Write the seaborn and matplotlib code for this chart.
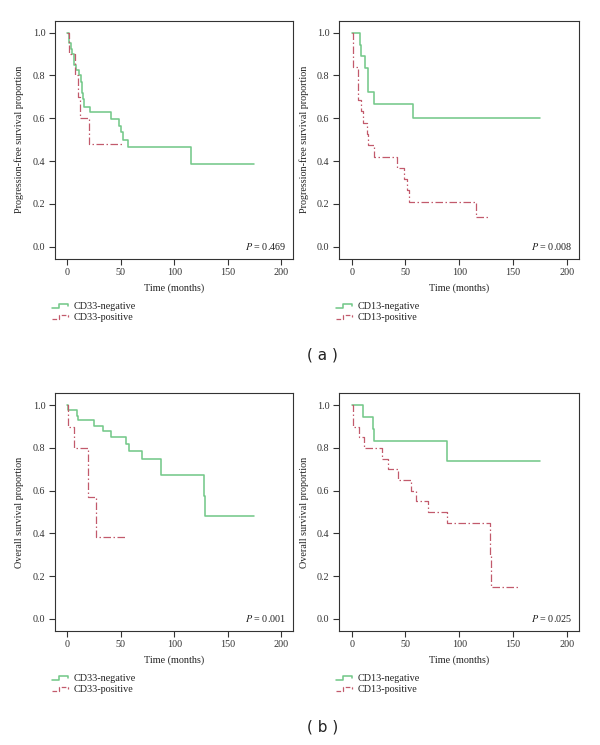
import matplotlib
matplotlib.use('Agg')
import matplotlib.pyplot as plt
from matplotlib.legend_handler import HandlerBase
from matplotlib.lines import Line2D
import numpy as np
import seaborn as sns
import pandas as pd

sns.set_style('ticks')
plt.rcParams.update({'font.family'      : ['Liberation Serif', 'DejaVu Serif'],
                     'mathtext.fontset' : 'stix',
                     'font.size'        : 7.3,
                     'xtick.labelsize'  : 7.3,
                     'ytick.labelsize'  : 7.3,
                     'axes.labelsize'   : 7.3,
                     'axes.linewidth'   : 0.8,
                     'axes.edgecolor'   : '#333333',
                     'xtick.color'      : '#333333',
                     'ytick.color'      : '#333333',
                     'text.color'       : '#222222',
                     'axes.labelcolor'  : '#222222'})

GREEN = '#74c98a'
RED = '#c25a6c'

# (a) progression-free survival, CD33
pfs33_neg_t = [0, 1.2, 3, 4.7, 6.5, 8.5, 10.5, 13, 14, 15, 16, 21, 41, 48, 50, 52, 57, 116, 175]
pfs33_neg_s = [1.0, 0.95, 0.925, 0.90, 0.85, 0.825, 0.80, 0.77, 0.72, 0.69, 0.655, 0.628, 0.598,
               0.565, 0.534, 0.50, 0.466, 0.387, 0.387]
pfs33_pos_t = [0, 1.5, 7, 10, 12, 20, 53]
pfs33_pos_s = [1.0, 0.90, 0.80, 0.70, 0.60, 0.48, 0.48]

# (a) progression-free survival, CD13
pfs13_neg_t = [0, 7.4, 9, 12, 15.4, 21, 57.4, 175]
pfs13_neg_s = [1.0, 0.944, 0.889, 0.833, 0.722, 0.667, 0.60, 0.60]
pfs13_pos_t = [0, 1, 6, 9, 10.5, 14, 15.5, 21, 42, 49, 51, 53.5, 116, 128]
pfs13_pos_s = [1.0, 0.842, 0.684, 0.632, 0.579, 0.526, 0.474, 0.421, 0.368, 0.316, 0.263, 0.21,
               0.14, 0.14]

# (b) overall survival, CD33
os33_neg_t = [0, 1, 9.3, 10.3, 25, 33, 41, 54.5, 58, 70, 87.5, 127.4, 129, 175]
os33_neg_s = [1.0, 0.976, 0.952, 0.929, 0.905, 0.881, 0.85, 0.82, 0.785, 0.748, 0.672, 0.576,
              0.48, 0.48]
os33_pos_t = [0, 1, 6, 19.5, 27, 54]
os33_pos_s = [1.0, 0.90, 0.80, 0.571, 0.381, 0.381]

# (b) overall survival, CD13
os13_neg_t = [0, 10.2, 20, 21, 88.3, 175]
os13_neg_s = [1.0, 0.944, 0.889, 0.833, 0.741, 0.741]
os13_pos_t = [0, 1.5, 7, 11.4, 28, 33.6, 42.6, 55.2, 60, 71.3, 89, 128.5, 129.5, 155.6]
os13_pos_s = [1.0, 0.90, 0.85, 0.80, 0.75, 0.70, 0.65, 0.60, 0.55, 0.50, 0.45, 0.30, 0.15, 0.15]

panels = [
    (pfs33_neg_t, pfs33_neg_s, pfs33_pos_t, pfs33_pos_s, 'CD33', 'Progression-free survival proportion', '0.469'),
    (pfs13_neg_t, pfs13_neg_s, pfs13_pos_t, pfs13_pos_s, 'CD13', 'Progression-free survival proportion', '0.008'),
    (os33_neg_t, os33_neg_s, os33_pos_t, os33_pos_s, 'CD33', 'Overall survival proportion', '0.001'),
    (os13_neg_t, os13_neg_s, os13_pos_t, os13_pos_s, 'CD13', 'Overall survival proportion', '0.025'),
]

DASHDOT = (0, (6, 2, 1.2, 2))


class StepHandler(HandlerBase):
    # little step glyph like the one in the original legend
    def create_artists(self, legend, orig_handle, xdescent, ydescent, width, height, fontsize, trans):
        xs = np.array([0.0, 0.45, 0.45, 1.0, 1.0]) * width - xdescent
        ys = np.array([0.2, 0.2, 0.75, 0.75, 0.45]) * height - ydescent
        ln = Line2D(xs, ys, color=orig_handle.get_color(), linestyle=orig_handle.get_linestyle(),
                    linewidth=orig_handle.get_linewidth(), transform=trans)
        return [ln]


fig = plt.figure(figsize=(6.0, 7.45), dpi=100)
W, H = 600.0, 745.0
boxes = [(55, 20.7, 293, 258.7), (339.3, 20.7, 578.7, 258.7),
         (55, 393.3, 293, 630.7), (339.3, 393.3, 578.7, 630.7)]

for (nt, ns, pt, ps, marker, ylab, pval), (x0, y0, x1, y1) in zip(panels, boxes):
    ax = fig.add_axes([x0 / W, 1 - y1 / H, (x1 - x0) / W, (y1 - y0) / H])
    df_neg = pd.DataFrame({'time': nt, 'surv': ns})
    df_pos = pd.DataFrame({'time': pt, 'surv': ps})
    sns.lineplot(data=df_neg, x='time', y='surv', ax=ax, color=GREEN, lw=1.15,
                 drawstyle='steps-post', estimator=None, label=marker + '-negative')
    sns.lineplot(data=df_pos, x='time', y='surv', ax=ax, color=RED, lw=0.9,
                 drawstyle='steps-post', estimator=None, label=marker + '-positive')
    ax.lines[1].set_linestyle(DASHDOT)
    ax.set_xlim(-11.5, 211)
    ax.set_ylim(-0.056, 1.056)
    ax.set_xticks([0, 50, 100, 150, 200])
    ax.set_yticks([0.0, 0.2, 0.4, 0.6, 0.8, 1.0])
    ax.set_yticklabels(['0.0', '0.2', '0.4', '0.6', '0.8', '1.0'])
    ax.tick_params(direction='out', length=4, width=0.8, pad=3)
    for sp in ax.spines.values():
        sp.set_visible(True)
    ax.set_xlabel('Time (months)', labelpad=4)
    ax.set_ylabel(ylab, labelpad=6)
    ax.text(205, 0.0, r'$P$ = ' + pval, ha='right', va='center', fontsize=7.3)
    h, l = ax.get_legend_handles_labels()
    ax.legend(h, l, loc='upper left', bbox_to_anchor=(-0.03, -0.165), frameon=False,
              fontsize=7.3, handlelength=1.6, handletextpad=0.5, labelspacing=0.2,
              borderaxespad=0, handler_map={Line2D: StepHandler()})

fig.text(0.537, 1 - 355 / H, '( a )', ha='center', va='center', fontsize=11, family='DejaVu Sans')
fig.text(0.537, 1 - 727 / H, '( b )', ha='center', va='center', fontsize=11, family='DejaVu Sans')

fig.savefig('out.png', dpi=100)
